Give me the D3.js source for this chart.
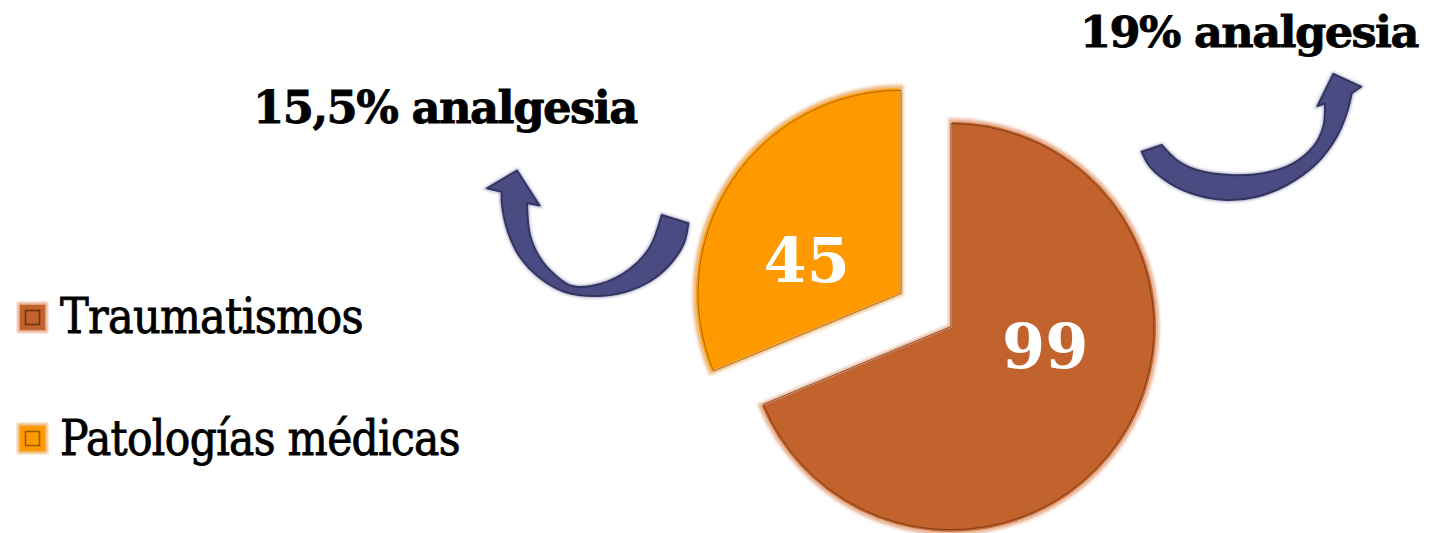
<!DOCTYPE html>
<html><head><meta charset="utf-8">
<script src="https://cdn.jsdelivr.net/npm/d3@7"></script>
<style>html,body{margin:0;padding:0;background:#fff;} svg{display:block}</style>
</head><body>
<svg id="chart" width="1441" height="533"></svg>
<script>
// ---- data ----
const categories = ["Traumatismos", "Patologías médicas"];
const values = [99, 45];
const sliceColors = ["#C2632E", "#FF9900"];
const edgeDark = ["#6e3412", "#9a5e00"];
const edgeGlow = ["#e9b79c", "#eebf8a"];
const annotations = ["19% analgesia", "15,5% analgesia"];

// ---- layout ----
const W = 1441, H = 533;
const cx = 926, cy = 310, R = 206, explode = 30;
const svg = d3.select("#chart");

const defs = svg.append("defs");
defs.append("filter").attr("id", "glow").attr("x", "-10%").attr("y", "-10%").attr("width", "120%").attr("height", "120%")
  .append("feGaussianBlur").attr("stdDeviation", 1.4);

const color = d3.scaleOrdinal().domain(categories).range(sliceColors);
const pie = d3.pie().sort(null).value(d => d.v);
const arcs = pie(categories.map((c, i) => ({c, v: values[i], i})));
const arc = d3.arc().innerRadius(0).outerRadius(R);

const serif = "'DejaVu Serif', 'Liberation Serif', serif";

function fitWidth(sel, target) {
  const node = sel.node();
  const w = node.getComputedTextLength();
  const x = +sel.attr("x"), y = +sel.attr("y");
  const s = target / w;
  sel.attr("transform", `translate(${x},${y}) scale(${s},1) translate(${-x},${-y})`);
}

// ---- arrows (decoration shapes) ----
const arrowShapes = [
  { outer: [[688.3,223.3],[684,243],[672,262],[652,280],[625,292],[595,296],[565,292],[540,278],[520,257],[508,232],[502,205],[501.7,191.7]],
    head: [[487,188.3],[517,170.5],[539.5,205.5]],
    inner: [[527,203],[530,235],[540,258],[555,275],[572,286],[600,284],[630,269],[650,247],[661.7,215]] },
  { outer: [[1141.7,151.7],[1150,166.7],[1170,183.3],[1196.7,195],[1226.7,200],[1256.7,196.7],[1286.7,185],[1316.7,163.3],[1336.7,136.7],[1346.7,113.3],[1351.7,93.3]],
    head: [[1361,86.7],[1333.3,74],[1317.5,106]],
    inner: [[1325,103.3],[1323.3,126.7],[1313.3,146.7],[1293.3,163.3],[1263.3,173.3],[1230,175],[1196.7,170],[1176.7,160],[1161.7,145]] }
];
const cr = d3.line().curve(d3.curveCatmullRom.alpha(0.5));
function arrowPath(a) {
  let d = cr(a.outer);
  d += a.head.map(p => "L" + p[0] + "," + p[1]).join("");
  d += cr(a.inner).replace(/^M/, "L");
  return d + "Z";
}
const ag = svg.append("g");
ag.selectAll("path.glow").data(arrowShapes).join("path")
  .attr("d", arrowPath).attr("fill", "none").attr("stroke", "#a0a0c4").attr("stroke-width", 3.5).attr("filter", "url(#glow)");
ag.selectAll("path.arrow").data(arrowShapes).join("path")
  .attr("d", arrowPath).attr("fill", "#4A4B82").attr("stroke", "#34355f").attr("stroke-width", 2).attr("stroke-linejoin", "round");

// ---- pie ----
const g = svg.append("g");
const slice = g.selectAll("g.slice").data(arcs).join("g")
  .attr("transform", d => {
    const a = (d.startAngle + d.endAngle) / 2;
    return `translate(${cx + explode * Math.sin(a)},${cy - explode * Math.cos(a)})`;
  });
slice.append("path").attr("d", arc)
  .attr("fill", "none").attr("stroke", (d, i) => edgeGlow[i]).attr("stroke-width", 5).attr("filter", "url(#glow)");
slice.append("path").attr("d", arc)
  .attr("fill", d => color(d.data.c))
  .attr("stroke", (d, i) => edgeGlow[i]).attr("stroke-width", 2);
slice.append("path").attr("d", d3.arc().innerRadius(0).outerRadius(R - 3))
  .attr("fill", "none").attr("stroke", (d, i) => edgeDark[i]).attr("stroke-width", 1).attr("stroke-opacity", 0.8);

// value labels
const labelShift = -18 * Math.PI / 180, labelDist = 98, labelFs = 62;
slice.append("text")
  .attr("x", d => labelDist * Math.sin((d.startAngle + d.endAngle) / 2 + labelShift))
  .attr("y", d => -labelDist * Math.cos((d.startAngle + d.endAngle) / 2 + labelShift) + 0.24 * labelFs)
  .attr("text-anchor", "middle")
  .attr("font-family", serif).attr("font-weight", "bold").attr("font-size", labelFs)
  .attr("fill", "#fff")
  .text(d => d.data.v);

// ---- annotations ----
const ann1 = svg.append("text").attr("x", 1080).attr("y", 47)
  .attr("font-family", serif).attr("font-weight", "bold").attr("font-size", 43).attr("letter-spacing", -1.5)
  .attr("fill", "#000").attr("stroke", "#000").attr("stroke-width", 0.8)
  .text(annotations[0]);
fitWidth(ann1, 338);
const ann2 = svg.append("text").attr("x", 253).attr("y", 123)
  .attr("font-family", serif).attr("font-weight", "bold").attr("font-size", 44).attr("letter-spacing", -1.5)
  .attr("fill", "#000").attr("stroke", "#000").attr("stroke-width", 0.8)
  .text(annotations[1]);
fitWidth(ann2, 384);

// ---- legend ----
const legendY = [317.5, 438.5];
const legendTextW = [303, 400];
const lg = svg.append("g");
categories.forEach((c, i) => {
  const y = legendY[i];
  lg.append("rect").attr("x", 19).attr("y", y - 13.5).attr("width", 27).attr("height", 27)
    .attr("fill", "none").attr("stroke", edgeGlow[i]).attr("stroke-width", 4).attr("filter", "url(#glow)");
  lg.append("rect").attr("x", 19).attr("y", y - 13.5).attr("width", 27).attr("height", 27)
    .attr("fill", color(c)).attr("stroke", edgeGlow[i]).attr("stroke-width", 1.5);
  lg.append("rect").attr("x", 25.5).attr("y", y - 7).attr("width", 14).attr("height", 14)
    .attr("fill", color(c)).attr("stroke", edgeDark[i]).attr("stroke-width", 1.6);
  const t = lg.append("text").attr("x", 60).attr("y", y + (i === 0 ? 15.5 : 16.5))
    .attr("font-family", serif).attr("font-size", 48).attr("letter-spacing", -0.8)
    .attr("fill", "#000").attr("stroke", "#000").attr("stroke-width", 0.9)
    .text(c);
  fitWidth(t, legendTextW[i]);
});
</script>
</body></html>
